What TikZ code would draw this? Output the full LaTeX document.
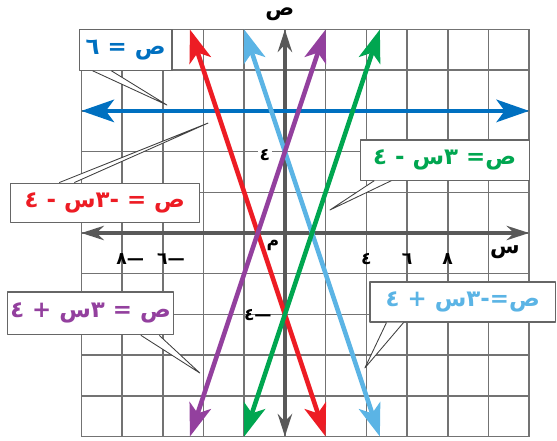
\documentclass[tikz,border=0pt]{standalone}
\usepackage{fontspec}
\newfontfamily\arabicfont[Script=Arabic]{DejaVu Sans}
\TeXXeTstate=1
\usetikzlibrary{arrows.meta}
\definecolor{xanhdam}{RGB}{0,112,192}
\definecolor{do}{RGB}{237,28,36}
\definecolor{tim}{RGB}{147,64,158}
\definecolor{xanhla}{RGB}{0,166,80}
\definecolor{xanhnhat}{RGB}{91,180,229}
\begin{document}
\begin{tikzpicture}[x=0.5cm,y=0.5cm,line join=round,
	luoi/.style={black!55,line width=1.1pt},
	truc/.style={black!65,line width=2.6pt,{Stealth[length=5.5mm,width=3.5mm]}-{Stealth[length=5.5mm,width=3.5mm]}},
	duong/.style={line width=3.2pt,samples=2,{Stealth[length=8mm,width=5.5mm,inset=2mm]}-{Stealth[length=8mm,width=5.5mm,inset=2mm]}},
	hop/.style={draw=black!60,fill=white,line width=0.8pt,inner sep=2pt,font=\arabicfont\bfseries\fontsize{16}{16}\selectfont},
	duoi/.style={draw=black!75,fill=white,line width=0.6pt},
	nhan/.style={font=\arabicfont\bfseries\fontsize{12}{12}\selectfont,inner sep=1pt}]
	\def\xmin{-10} \def\xmax{12}
	\def\ymin{-10} \def\ymax{10}
	\useasboundingbox (-14.0,-10.22) rectangle (13.37,11.45);
	\draw[luoi] (\xmin,\ymin) grid[step=2] (\xmax,\ymax);
	\draw[truc] (\xmin,0)--(\xmax,0);
	\draw[truc] (0,\ymin)--(0,\ymax);
	\node[nhan,font=\arabicfont\bfseries\fontsize{15}{15}\selectfont] (nhany) at (-0.25,10.76) {ص};
	\node[nhan,font=\arabicfont\bfseries\fontsize{15}{15}\selectfont] (nhanx) at (10.81,-0.93) {س};
	\node[nhan] (goc) at (-0.59,-0.59) {م};
	% so tren truc
	\node[nhan] (x4) at (4,-1.3) {٤};
	\node[nhan] (x6) at (6,-1.3) {٦};
	\node[nhan] (x8) at (8,-1.3) {٨};
	\node[nhan] (xm6) at (-5.6,-1.3) {\beginR—٦\endR};
	\node[nhan] (xm8) at (-7.6,-1.3) {\beginR—٨\endR};
	\node[nhan,fill=white] (y4) at (-0.98,3.83) {٤};
	\node[nhan] (ym4) at (-1.33,-4.03) {\beginR—٤\endR};
	% cac duong thang
	\draw[duong,xanhdam,domain=\xmin:\xmax] plot(\x,6);
	\draw[duong,do,domain=-14/3:2] plot(\x,{-3*\x-4});
	\draw[duong,xanhnhat,domain=-2:14/3] plot(\x,{-3*\x+4});
	\draw[duong,xanhla,domain=-2:14/3] plot(\x,{3*\x-4});
	\draw[duong,tim,domain=-14/3:2] plot(\x,{3*\x+4});
	% cac hop ghi chu
	\node[hop,text=xanhdam,minimum width=2.275cm,minimum height=1cm] (hop1) at (-7.825,9) {\beginR ص = ٦\endR};
	\node[hop,text=do,minimum width=4.65cm,minimum height=0.975cm] (hop2) at (-8.85,1.475) {\beginR ص = -٣س - ٤\endR};
	\node[hop,text=xanhla,minimum width=4.15cm,minimum height=0.985cm] (hop3) at (7.85,3.585) {\beginR ص= ٣س - ٤\endR};
	\node[hop,text=tim,minimum width=4.05cm,minimum height=1.05cm] (hop4) at (-9.55,-3.95) {\beginR ص = ٣س + ٤\endR};
	\node[hop,text=xanhnhat,minimum width=4.56cm,minimum height=0.98cm] (hop5) at (8.74,-3.39) {\beginR ص=-٣س + ٤\endR};
	\coordinate (dinh1) at (-5.8,6.29);
	\coordinate (dinh2) at (-3.78,5.4);
	\coordinate (dinh3) at (2.21,1.13);
	\coordinate (dinh4) at (-4.18,-6.88);
	\coordinate (dinh5) at (3.93,-6.63);
	\filldraw[duoi] ([xshift=3.4mm]hop1.south west)--(dinh1)--([xshift=8mm]hop1.south west);
	\filldraw[duoi] ([xshift=12.2mm]hop2.north west)--(dinh2)--([xshift=15.9mm]hop2.north west);
	\filldraw[duoi] ([xshift=3.6mm]hop3.south west)--(dinh3)--([xshift=7.8mm]hop3.south west);
	\filldraw[duoi] ([xshift=-8.2mm]hop4.south east)--(dinh4)--([xshift=-3.7mm]hop4.south east);
	\filldraw[duoi] ([xshift=4.2mm]hop5.south west)--(dinh5)--([xshift=8.4mm]hop5.south west);
\end{tikzpicture}
\end{document}
